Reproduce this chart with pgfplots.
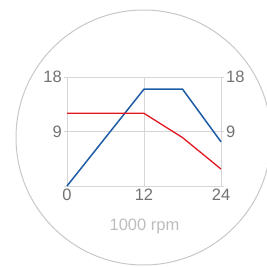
\documentclass[border=0pt]{standalone}
\usepackage{pgfplots}
\pgfplotsset{compat=1.18}
\usepackage{fontspec}
\setmainfont{Liberation Sans}
\definecolor{gridgray}{HTML}{D6D6D6}
\definecolor{ticklab}{HTML}{727272}
\definecolor{lablight}{HTML}{BDBDBD}
\definecolor{circ}{HTML}{C8C8C8}
\definecolor{blueline}{HTML}{1F5CA6}
\definecolor{redline}{HTML}{E3161F}
\begin{document}
\begin{tikzpicture}[x=1pt,y=1pt]
\useasboundingbox (0,0) rectangle (267,266);
\begin{scope}
\clip (0,0) rectangle (267,266);
\draw[circ, line width=1pt] (143.5,128.5) circle (127.5);
\end{scope}
\pgfplotsset{base/.style={
  scale only axis, width=154pt, height=109pt,
  at={(67pt,80pt)}, anchor=south west,
  xmin=0, xmax=24, ymin=0, ymax=18,
  xtick={0,12,24}, ytick={0,9,18},
  axis line style={draw=gridgray, line width=0.8pt},
  grid style={draw=gridgray, line width=0.8pt},
  tick style={draw=gridgray, line width=0.8pt},
  tick align=outside,
  xtick style={draw=none},
  major tick length=3pt,
  ticklabel style={font=\fontsize{16.5}{16.5}\selectfont, text=ticklab},
  xticklabel style={inner sep=0pt},
  yticklabel style={inner sep=2pt},
  /pgf/number format/assume math mode=true,
  clip=false,
}}
\begin{axis}[base, xmajorgrids, ymajorgrids,
  yticklabel pos=left, ytick pos=both,
  yticklabels={,9,18},
  xtick pos=bottom]
\addplot[blueline, line width=1.5pt] coordinates {(0,0) (12,16) (18,16) (24,7.3)};
\addplot[redline, line width=1.3pt] coordinates {(0,12) (12,12) (18,8) (24,2.8)};
\end{axis}
\begin{axis}[base, yticklabel pos=right, ytick pos=right, ytick={9,18},
  axis line style={draw=none}, ytick style={draw=none},
  xtick=\empty]
\addplot[draw=none] coordinates {(0,0)};
\end{axis}
\node[text=lablight, font=\fontsize{16.5}{16.5}\selectfont, anchor=base, inner sep=0pt] at (144.5,36) {1000 rpm};
\end{tikzpicture}
\end{document}
